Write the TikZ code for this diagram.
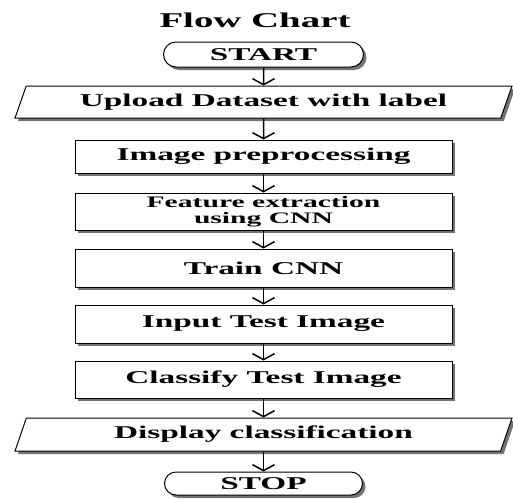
\documentclass[tikz,border=0pt]{standalone}
\usepackage{fontspec}
\setmainfont{Liberation Serif}[FakeStretch=1.85]
\usetikzlibrary{shapes.geometric,shapes.misc,shadows,arrows.meta}
\begin{document}
\begin{tikzpicture}[x=1pt,y=-1pt,
  txt/.style={font=\bfseries\fontsize{18}{18}\selectfont, text=black, align=center},
  shad/.style={drop shadow={shadow xshift=3pt, shadow yshift=-3pt, fill=black!55, opacity=1}},
  procbox/.style={txt, shad, draw=black, line width=1pt, fill=white, rectangle, minimum width=377pt, inner sep=0pt},
  iobox/.style={txt, shad, draw=black, line width=1pt, fill=white, trapezium, trapezium left angle=55.5, trapezium right angle=124.5, trapezium stretches body, minimum width=497pt, inner sep=0pt},
  termbox/.style={txt, shad, draw=black, line width=1pt, fill=white, rounded rectangle, minimum width=200pt, minimum height=25pt, inner sep=0pt},
  flow/.style={draw=black, line width=1.5pt, -{Straight Barb[length=6pt,width=22pt]}}
]
\useasboundingbox (0,0) rectangle (513,498);
\node[font=\bfseries\fontsize{21}{21}\selectfont] (title) at (255,20) {Flow Chart};
\node[termbox] (start) at (263.5,54.5) {START};
\node[iobox, minimum height=32pt] (upload) at (263.5,102) {Upload Dataset with label};
\node[procbox, minimum height=33pt] (prep) at (263.5,156.5) {Image preprocessing};
\node[procbox, minimum height=37pt, font=\bfseries\fontsize{16}{16}\selectfont] (feat) at (263.5,211.5) {Feature extraction\\using CNN};
\node[procbox, minimum height=38pt] (train) at (263.5,268) {Train CNN};
\node[procbox, minimum height=38pt] (input) at (263.5,324) {Input Test Image};
\node[procbox, minimum height=37pt] (classify) at (263.5,379.5) {Classify Test Image};
\node[iobox, minimum height=33pt] (display) at (263.5,434.5) {Display classification};
\node[termbox, minimum width=198pt, minimum height=23pt] (stop) at (263.5,483.5) {STOP};
\draw[flow] (start) -- (upload);
\draw[flow] (upload) -- (prep);
\draw[flow] (prep) -- (feat);
\draw[flow] (feat) -- (train);
\draw[flow] (train) -- (input);
\draw[flow] (input) -- (classify);
\draw[flow] (classify) -- (display);
\draw[flow] (display) -- (stop);
\end{tikzpicture}
\end{document}
